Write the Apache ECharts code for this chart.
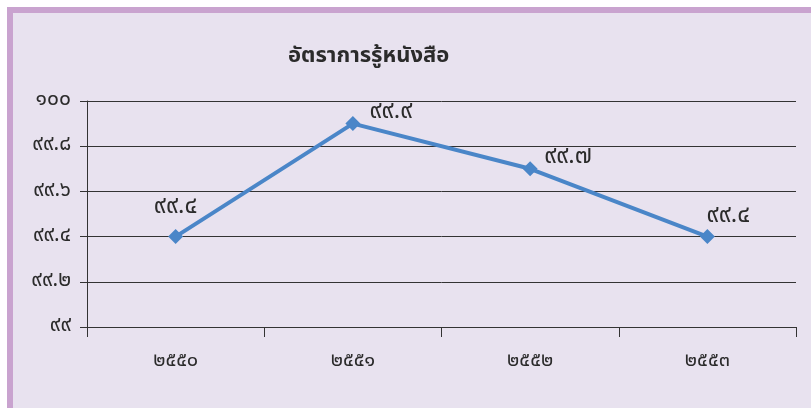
<!DOCTYPE html>
<html>
<head>
<meta charset="utf-8">
<script src="https://cdn.jsdelivr.net/npm/echarts@6/dist/echarts.min.js"></script>
<style>
html,body{margin:0;padding:0;background:#ffffff;}
#bg{position:absolute;left:7px;top:7px;width:798px;height:395px;background:#e8e2ef;border-left:6px solid #c9a3cf;border-top:6px solid #c9a3cf;}
#chart{position:absolute;left:0;top:0;width:811px;height:408px;}
</style>
</head>
<body>
<div id="bg"></div>
<div id="chart"></div>
<script>
const titleText = 'อัตราการรู้หนังสือ';
const categories = ['๒๕๕๐', '๒๕๕๑', '๒๕๕๒', '๒๕๕๓'];
const literacyValues = [99.4, 99.9, 99.7, 99.4];
const dataLabels = ['๙๙.๔', '๙๙.๙', '๙๙.๗', '๙๙.๔'];
const yTickValues = [99, 99.2, 99.4, 99.6, 99.8, 100];
const yTickLabels = ['๙๙', '๙๙.๒', '๙๙.๔', '๙๙.๖', '๙๙.๘', '๑๐๐'];

const labelOffsets = [[0, -4], [38, 14], [38, 14], [21, 5]];
const FONT = '"Noto Sans Thai", "DejaVu Sans", "Noto Sans", sans-serif';

const chart = echarts.init(document.getElementById('chart'), null, {renderer: 'canvas'});
const seriesData = literacyValues.map((v, i) => ({
  value: v,
  label: {
    show: true,
    position: 'top',
    offset: labelOffsets[i],
    formatter: () => dataLabels[i]
  }
}));

chart.setOption({
  backgroundColor: 'transparent',
  animation: false,
  title: {
    text: titleText,
    left: 283,
    top: 42,
    textStyle: {fontFamily: FONT, fontSize: 22, fontWeight: 'bold', color: '#2b2b2b'}
  },
  grid: {left: 87, right: 15, top: 101, bottom: 81, containLabel: false},
  xAxis: {
    type: 'category',
    data: categories,
    boundaryGap: true,
    axisLine: {show: true, lineStyle: {color: '#333', width: 1}},
    axisTick: {show: true, length: 10, lineStyle: {color: '#333'}},
    axisLabel: {margin: 25, fontFamily: FONT, fontSize: 20, color: '#2b2b2b', lineHeight: 20},
    splitLine: {show: false}
  },
  yAxis: {
    type: 'value',
    min: 99,
    max: 100,
    interval: 0.2,
    axisLine: {show: true, lineStyle: {color: '#333', width: 1}},
    axisTick: {show: true, length: 7, lineStyle: {color: '#333'}},
    axisLabel: {
      margin: 16,
      fontFamily: FONT, fontSize: 21, color: '#2b2b2b',
      formatter: function (v) {
        const idx = yTickValues.findIndex(t => Math.abs(t - v) < 1e-6);
        return idx >= 0 ? yTickLabels[idx] : '';
      }
    },
    splitLine: {show: true, lineStyle: {color: '#333', width: 1}}
  },
  series: [{
    type: 'line',
    data: seriesData,
    symbol: 'diamond',
    symbolSize: 15,
    itemStyle: {color: '#4a86c8'},
    lineStyle: {color: '#4a86c8', width: 4},
    label: {fontFamily: FONT, fontSize: 24, color: '#2b2b2b', lineHeight: 24}
  }]
});
</script>
</body>
</html>
